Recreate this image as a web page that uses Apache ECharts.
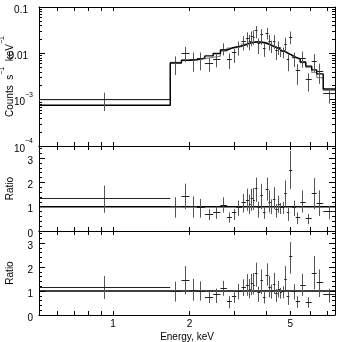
<!DOCTYPE html>
<html>
<head>
<meta charset="utf-8">
<script src="https://cdn.jsdelivr.net/npm/echarts@6/dist/echarts.min.js"></script>
<style>
html,body{margin:0;padding:0;background:#fff}
#chart{width:339px;height:342px}
</style>
</head>
<body>
<div id="chart"></div>
<script>
// bin edges, keV
var edges = [0.51,1.68,1.86,2.00,2.14,2.30,2.48,2.65,2.81,2.94,3.06,3.21,3.34,3.43,3.49,3.56,3.62,3.71,3.81,3.90,
  3.99,4.10,4.19,4.27,4.36,4.46,4.55,4.63,4.73,4.84,4.95,5.09,5.25,5.47,5.75,6.07,6.35,6.74,7.5];

// counts s-1 keV-1, with error bar ends
var counts   = [1.01e-3,6.2e-3,1.01e-2,7.3e-3,7.7e-3,5.9e-3,7.5e-3,0.0123,7.2e-3,0.0104,0.0140,0.0181,0.0204,0.0184,0.0226,0.0220,0.0308,0.0167,0.0250,0.0127,
  0.0270,0.0178,0.0144,0.0178,0.0117,0.0136,0.0114,0.0109,0.0159,7.4e-3,0.0225,8.1e-3,4.3e-3,7.7e-3,2.7e-3,6.7e-3,4.1e-3,1.36e-3];
var countsLo = [5.7e-4,3.4e-3,6.4e-3,4.0e-3,4.3e-3,4.0e-3,5.0e-3,9.0e-3,4.6e-3,6.2e-3,8.9e-3,0.0116,0.0135,0.0117,0.0142,0.0153,0.0211,9.7e-3,0.0154,8.4e-3,
  0.0199,0.0115,0.0101,0.0123,7.2e-3,9.3e-3,8.3e-3,7.8e-3,0.0108,4.1e-3,0.0157,5.1e-3,2.1e-3,4.9e-3,1.5e-3,4.0e-3,2.2e-3,8.2e-4];
var countsHi = [1.42e-3,8.6e-3,0.0138,0.0104,0.0104,7.9e-3,9.9e-3,0.0164,9.9e-3,0.0123,0.0180,0.0234,0.0284,0.0250,0.0298,0.0312,0.0387,0.0211,0.0332,0.0167,
  0.0350,0.0252,0.0187,0.0247,0.0143,0.0180,0.0136,0.0134,0.0216,9.4e-3,0.0296,0.0104,5.8e-3,0.0109,3.7e-3,9.6e-3,6.0e-3,1.77e-3];

// two model curves (black and grey steps)
var modelA = [7.6e-4,6.2e-3,7.1e-3,7.3e-3,7.9e-3,8.8e-3,9.9e-3,0.0118,0.0130,0.0137,0.0144,0.0153,0.0163,0.0167,0.0171,0.0176,0.0176,0.0176,0.0171,0.0167,
  0.0159,0.0151,0.0144,0.0137,0.0130,0.0124,0.0118,0.0112,0.0104,9.7e-3,9.0e-3,8.3e-3,7.6e-3,6.5e-3,5.3e-3,4.4e-3,3.6e-3,1.7e-3];
var modelB = [1.0e-3,6.4e-3,7.1e-3,7.1e-3,7.7e-3,8.2e-3,8.7e-3,0.0111,0.0129,0.0132,0.0140,0.0159,0.0167,0.0170,0.0174,0.0180,0.0179,0.0180,0.0176,0.0172,
  0.0164,0.0155,0.0148,0.0139,0.0133,0.0126,0.0120,0.0112,0.0107,9.7e-3,9.3e-3,8.1e-3,7.4e-3,6.3e-3,5.0e-3,3.9e-3,3.0e-3,1.58e-3];

// ratio panels
var ratio1   = [1.33,1.0,1.42,1.0,0.97,0.67,0.76,1.04,0.55,0.76,0.97,1.18,1.25,1.1,1.32,1.25,1.75,0.95,1.46,0.76,1.7,1.18,1.0,1.3,0.9,1.1,0.97,0.97,1.53,0.76,2.5,0.97,0.56,1.18,0.51,1.53,1.15,0.8];
var ratio1Lo = [0.75,0.55,0.9,0.55,0.55,0.45,0.5,0.76,0.35,0.45,0.62,0.76,0.83,0.7,0.83,0.87,1.2,0.55,0.9,0.5,1.25,0.76,0.7,0.9,0.55,0.75,0.7,0.7,1.04,0.42,1.74,0.62,0.28,0.76,0.28,0.9,0.62,0.48];
var ratio1Hi = [1.87,1.39,1.95,1.42,1.32,0.9,1.0,1.39,0.76,0.9,1.25,1.53,1.74,1.5,1.74,1.77,2.2,1.2,1.94,1.0,2.2,1.67,1.3,1.8,1.1,1.45,1.15,1.2,2.08,0.97,3.29,1.25,0.76,1.67,0.7,2.18,1.67,1.04];
var ratio2   = [1.15,0.97,1.42,1.03,1.0,0.72,0.86,1.11,0.56,0.79,1.0,1.14,1.22,1.08,1.3,1.22,1.72,0.93,1.42,0.74,1.65,1.15,0.97,1.28,0.88,1.08,0.95,0.97,1.49,0.76,2.42,1.0,0.58,1.22,0.54,1.72,1.35,0.86];
var ratio2Lo = [0.67,0.56,0.86,0.6,0.6,0.5,0.5,0.8,0.28,0.5,0.65,0.79,0.8,0.7,0.83,0.85,1.18,0.55,0.88,0.48,1.22,0.74,0.68,0.88,0.54,0.73,0.68,0.7,1.02,0.42,1.72,0.64,0.3,0.8,0.3,1.07,0.75,0.52];
var ratio2Hi = [1.62,1.39,2.04,1.5,1.4,0.95,1.1,1.42,0.79,0.95,1.3,1.49,1.7,1.5,1.72,1.75,2.18,1.18,1.9,0.98,2.15,1.63,1.27,1.76,1.08,1.42,1.13,1.2,2.04,0.97,3.04,1.28,0.78,1.72,0.74,2.46,1.9,1.1];

// ticks
var xTicks = [0.6,0.7,0.8,0.9,1,2,3,4,5,6,7];
var xLabels = [1,2,5];
var countMajor = [1e-4,1e-3,0.01,0.1];
var countLabels = ['10^\u22124','10^\u22123','0.01','0.1'];
var ratioMajor = [0,1,2,3];
var ratioLabels = ['0','1','2','3'];

var L = Math.log10;
var FONT = 'Liberation Sans, Arial, sans-serif';
var xMin = L(edges[0]), xMax = L(edges[edges.length - 1]);

var countMinor = [];
countMajor.slice(0, 3).forEach(function (d) {
  for (var k = 2; k <= 9; k++) countMinor.push(L(k * d));
});
var ratioMinor = [];
for (var r = 1; r < 18; r++) { if (r % 5) ratioMinor.push(r / 5); }

// "10^-3" -> rich text with a raised exponent
function sup(t, pad) {
  var p = t.split('^');
  if (!p[1] && pad) return '{p|' + p[0] + '}';
  return '{n|' + p[0] + '}' + (p[1] ? '{s|' + p[1] + '}' : '');
}
var rich = {
  n: {fontSize: 10, fontFamily: FONT, color: '#000', lineHeight: 16, verticalAlign: 'bottom'},
  p: {fontSize: 10, fontFamily: FONT, color: '#000', lineHeight: 16, verticalAlign: 'bottom', padding: [0, 5, 0, 0]},
  s: {fontSize: 7, fontFamily: FONT, color: '#000', lineHeight: 8, verticalAlign: 'top'}
};

function barData(vals, lo, hi, logY) {
  var f = logY ? L : function (v) { return v; };
  return vals.map(function (v, i) {
    var a = L(edges[i]), b = L(edges[i + 1]);
    return [(a + b) / 2, a, b, f(v), f(lo[i]), f(hi[i])];
  });
}
function stepData(m) {
  var d = m.map(function (v, i) { return [L(edges[i]), L(v)]; });
  d.push([L(edges[m.length]), L(m[m.length - 1])]);
  return d;
}
function crisp(v) { return Math.round(v - 0.5) + 0.5; }
function renderBar(params, api) {
  var lo = api.coord([api.value(0), api.value(4)]);
  var hi = api.coord([api.value(0), api.value(5)]);
  var l = api.coord([api.value(1), api.value(3)]);
  var r = api.coord([api.value(2), api.value(3)]);
  var x = crisp(lo[0]), y = crisp(l[1]);
  return {type: 'group', children: [
    {type: 'line', shape: {x1: x, y1: lo[1], x2: x, y2: hi[1]}, style: {stroke: '#555', lineWidth: 1}},
    {type: 'line', shape: {x1: l[0], y1: y, x2: r[0], y2: y}, style: {stroke: '#222', lineWidth: 1}}
  ]};
}

var grids = [
  {left: 39, top: 7, width: 296, height: 139, containLabel: false, outerBoundsMode: 'none'},
  {left: 39, top: 146, width: 296, height: 85, containLabel: false, outerBoundsMode: 'none'},
  {left: 39, top: 231, width: 296, height: 84, containLabel: false, outerBoundsMode: 'none'}
];

var xAxes = [];
grids.forEach(function (g, gi) {
  ['bottom', 'top'].forEach(function (pos) {
    var lab = (gi === 2 && pos === 'bottom');
    xAxes.push({
      type: 'value', gridIndex: gi, position: pos, min: xMin, max: xMax,
      axisLine: {show: true, onZero: false, lineStyle: {color: '#000', width: 1}},
      axisTick: {show: true, inside: true, length: 4, customValues: xTicks.map(L), lineStyle: {color: '#000'}},
      axisLabel: {show: lab, customValues: xLabels.map(L), margin: 4, color: '#000', fontSize: 10, fontFamily: FONT,
        formatter: function (v) { return String(Math.round(Math.pow(10, v))); }},
      splitLine: {show: false},
      name: lab ? 'Energy, keV' : '', nameLocation: 'middle', nameGap: 17, nameMoveOverlap: false,
      nameTextStyle: {color: '#000', fontSize: 10, fontFamily: FONT}
    });
  });
});

var yAxes = [];
function addY(gi, min, max, major, minor, labels, name, pad) {
  ['left', 'right'].forEach(function (pos) {
    var main = pos === 'left';
    yAxes.push({
      type: 'value', gridIndex: gi, position: pos, min: min, max: max,
      axisLine: {show: true, onZero: false, lineStyle: {color: '#000', width: 1}},
      axisTick: {show: true, inside: true, length: 6, customValues: major, lineStyle: {color: '#000'}},
      axisLabel: {show: main, customValues: major, margin: 6, rich: rich,
        formatter: function (v) {
          var i = major.indexOf(v);
          return i < 0 ? '' : sup(labels[i], pad);
        }},
      splitLine: {show: false},
      name: main ? name : '', nameLocation: 'middle', nameGap: 24, nameRotate: 90, nameMoveOverlap: false,
      nameTextStyle: {rich: rich}
    });
    yAxes.push({
      type: 'value', gridIndex: gi, position: pos, min: min, max: max,
      axisLine: {show: false, onZero: false},
      axisTick: {show: true, inside: true, length: 3, customValues: minor, lineStyle: {color: '#000'}},
      axisLabel: {show: false}, splitLine: {show: false}
    });
  });
}
addY(0, -4, -1, countMajor.map(L), countMinor, countLabels,
  sup('Counts  s^\u22121') + sup('  keV^\u22121'), true);
addY(1, 0, 3.5, ratioMajor, ratioMinor, ratioLabels, sup('Ratio'), false);
addY(2, 0, 3.5, ratioMajor, ratioMinor, ratioLabels, sup('Ratio'), false);

var unity = [[xMin, 1], [xMax, 1]];

var series = [
  {type: 'line', xAxisIndex: 0, yAxisIndex: 0, step: 'end', showSymbol: false, symbol: 'none',
    data: stepData(modelB), lineStyle: {color: '#8a8a8a', width: 1.2}, z: 2},
  {type: 'line', xAxisIndex: 0, yAxisIndex: 0, step: 'end', showSymbol: false, symbol: 'none',
    data: stepData(modelA), lineStyle: {color: '#000', width: 1.4}, z: 3},
  {type: 'custom', xAxisIndex: 0, yAxisIndex: 0, renderItem: renderBar, clip: true,
    data: barData(counts, countsLo, countsHi, true), z: 4},
  {type: 'line', xAxisIndex: 2, yAxisIndex: 4, showSymbol: false, symbol: 'none',
    data: unity, lineStyle: {color: '#000', width: 1.6}, z: 3},
  {type: 'custom', xAxisIndex: 2, yAxisIndex: 4, renderItem: renderBar, clip: true,
    data: barData(ratio1, ratio1Lo, ratio1Hi, false), z: 4},
  {type: 'line', xAxisIndex: 4, yAxisIndex: 8, showSymbol: false, symbol: 'none',
    data: unity, lineStyle: {color: '#000', width: 1.6}, z: 3},
  {type: 'custom', xAxisIndex: 4, yAxisIndex: 8, renderItem: renderBar, clip: true,
    data: barData(ratio2, ratio2Lo, ratio2Hi, false), z: 4}
];

var chart = echarts.init(document.getElementById('chart'));
chart.setOption({
  animation: false,
  backgroundColor: '#fff',
  grid: grids,
  xAxis: xAxes,
  yAxis: yAxes,
  series: series
});
</script>
</body>
</html>
